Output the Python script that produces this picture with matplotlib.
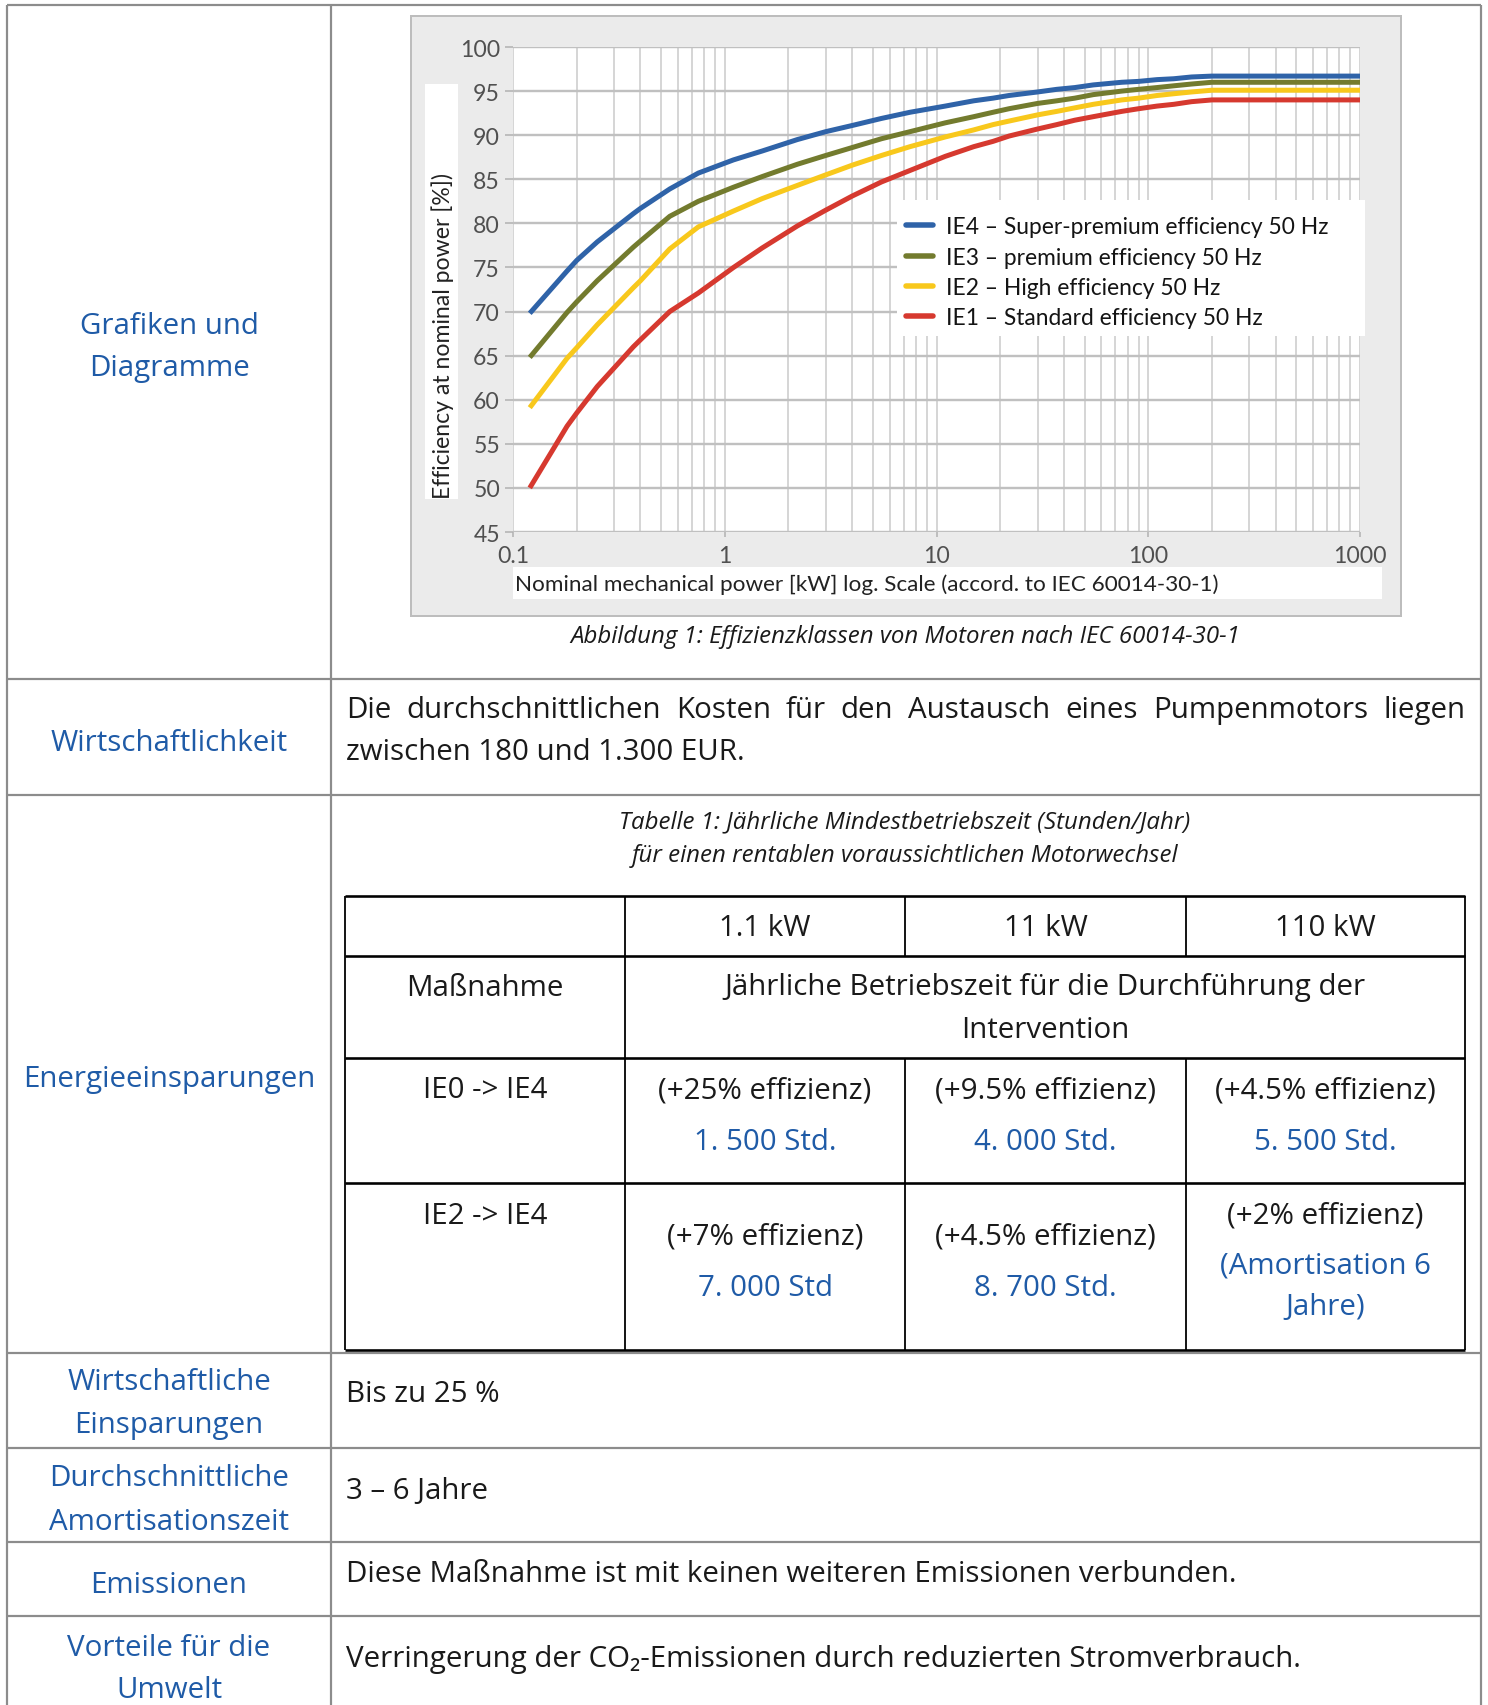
import matplotlib
matplotlib.use("Agg")
import matplotlib.pyplot as plt
from matplotlib.patches import Rectangle
from matplotlib.lines import Line2D
from matplotlib.ticker import LogLocator, NullFormatter, FixedLocator

W, H, DPI = 1488, 1706, 100

BODY = ['Open Sans', 'Noto Sans', 'DejaVu Sans']
CHART = ['Lato', 'DejaVu Sans']
plt.rcParams['font.family'] = BODY

BLUE = '#1f5ba7'
TXT = '#1a1a1a'
GRID_GRAY = '#8c8c8c'
FS = 29.5      # body text size in pixels
FS_CAP = 24    # italic caption size in pixels

# ---- IEC 60034-30-1 efficiency classes (4-pole, 50 Hz) ----
power_kw = [0.12, 0.18, 0.20, 0.25, 0.37, 0.40, 0.55, 0.75,
            1.1, 1.5, 2.2, 3, 4, 5.5, 7.5,
            11, 15, 18.5, 22, 30, 37, 45, 55, 75, 90,
            110, 132, 160, 200, 1000]
ie1 = [50.0, 57.0, 58.5, 61.5, 66.0, 66.8, 70.0, 72.1,
       75.0, 77.2, 79.7, 81.5, 83.1, 84.7, 86.0,
       87.6, 88.7, 89.3, 89.9, 90.7, 91.2, 91.7, 92.1, 92.7, 93.0,
       93.3, 93.5, 93.8, 94.0, 94.0]
ie2 = [59.1, 64.7, 65.9, 68.5, 72.7, 73.5, 77.1, 79.6,
       81.4, 82.8, 84.3, 85.5, 86.6, 87.7, 88.7,
       89.8, 90.6, 91.2, 91.6, 92.3, 92.7, 93.1, 93.5, 94.0, 94.2,
       94.5, 94.7, 94.9, 95.1, 95.1]
ie3 = [64.8, 69.9, 71.1, 73.5, 77.3, 78.0, 80.8, 82.5,
       84.1, 85.3, 86.7, 87.7, 88.6, 89.6, 90.4,
       91.4, 92.1, 92.6, 93.0, 93.6, 93.9, 94.2, 94.6, 95.0, 95.2,
       95.4, 95.6, 95.8, 96.0, 96.0]
ie4 = [69.8, 74.6, 75.8, 77.9, 81.1, 81.7, 83.9, 85.7,
       87.2, 88.2, 89.5, 90.4, 91.1, 91.9, 92.6,
       93.3, 93.9, 94.2, 94.5, 94.9, 95.2, 95.4, 95.7, 96.0, 96.1,
       96.3, 96.4, 96.6, 96.7, 96.7]

series_labels = ['IE4 – Super-premium efficiency 50 Hz',
                 'IE3 – premium efficiency 50 Hz',
                 'IE2 – High efficiency 50 Hz',
                 'IE1 – Standard efficiency 50 Hz']
series_colors = ['#2f63a8', '#737b2e', '#f8c81c', '#d6392f']

x_ticks = [0.1, 1, 10, 100, 1000]
x_tick_labels = ['0.1', '1', '10', '100', '1000']
y_ticks = list(range(45, 101, 5))

# ---- table content ----
row_labels = [['Grafiken und', 'Diagramme'], ['Wirtschaftlichkeit'], ['Energieeinsparungen'],
              ['Wirtschaftliche', 'Einsparungen'], ['Durchschnittliche', 'Amortisationszeit'],
              ['Emissionen'], ['Vorteile für die', 'Umwelt']]
cost_text = ['Die durchschnittlichen Kosten für den Austausch eines Pumpenmotors liegen',
             'zwischen 180 und 1.300 EUR.']
power_cols = ['1.1 kW', '11 kW', '110 kW']
measures = ['IE0 -> IE4', 'IE2 -> IE4']
gains = [['(+25% effizienz)', '(+9.5% effizienz)', '(+4.5% effizienz)'],
         ['(+7% effizienz)', '(+4.5% effizienz)', '(+2% effizienz)']]
hours = [['1. 500 Std.', '4. 000 Std.', '5. 500 Std.'],
         ['7. 000 Std', '8. 700 Std.', '(Amortisation 6\nJahre)']]
savings_text = 'Bis zu 25 %'
payback_text = '3 – 6 Jahre'
emission_text = 'Diese Maßnahme ist mit keinen weiteren Emissionen verbunden.'
benefit_text = 'Verringerung der CO₂-Emissionen durch reduzierten Stromverbrauch.'

fig = plt.figure(figsize=(W / DPI, H / DPI), dpi=DPI)
fig.patch.set_facecolor('white')

# page layer in pixel coordinates
bg = fig.add_axes([0, 0, 1, 1], zorder=0)
bg.set_xlim(0, W)
bg.set_ylim(H, 0)
bg.axis('off')


def pt(px):
    return px * 72.0 / DPI


def put(x, y, s, size, color=TXT, ha='center', style='normal', family=None, **kw):
    return bg.text(x, y, s, fontsize=pt(size), color=color, ha=ha, va='center',
                   fontstyle=style, family=family or BODY, **kw)


def hline(y, x0, x1, color, lw):
    bg.plot([x0, x1], [y, y], color=color, lw=pt(lw), solid_capstyle='butt')


def vline(x, y0, y1, color, lw):
    bg.plot([x, x], [y0, y1], color=color, lw=pt(lw), solid_capstyle='butt')


# ---- outer table grid ----
OL, OM, OR = 7, 331, 1481
row_edges = [6, 680, 796, 1354, 1449, 1543, 1617]
for y in row_edges:
    hline(y, OL, OR, GRID_GRAY, 2.2)
for x in (OL, OM, OR):
    vline(x, 6, H, GRID_GRAY, 2.2)

# ---- left column labels ----
label_pos = [(326, 368), (743,), (1079,), (1383, 1426), (1479, 1522), (1586,), (1649, 1691)]
for lines, ys in zip(row_labels, label_pos):
    for s, y in zip(lines, ys):
        put(169, y, s, FS, color=BLUE)

# ---- chart frame ----
bg.add_patch(Rectangle((411, 17), 990, 600, facecolor='#ebebeb', edgecolor='#bdbdbd', lw=pt(2)))
bg.add_patch(Rectangle((425, 85), 33, 415, facecolor='white', edgecolor='none'))
bg.add_patch(Rectangle((513, 568), 869, 32, facecolor='white', edgecolor='none'))
put(443, 336, 'Efficiency at nominal power [%])', 23, color='#222222', family=CHART,
    rotation=90)
put(515, 585, 'Nominal mechanical power [kW] log. Scale (accord. to IEC 60014-30-1)', 22.5,
    color='#222222', ha='left', family=CHART)
put(905, 637, 'Abbildung 1: Effizienzklassen von Motoren nach IEC 60014-30-1', FS_CAP,
    style='italic')

# ---- efficiency chart ----
AX_L, AX_R, AX_T, AX_B = 513, 1360, 48, 533
ax = fig.add_axes([AX_L / W, 1 - AX_B / H, (AX_R - AX_L) / W, (AX_B - AX_T) / H], zorder=1)
ax.set_facecolor('white')
ax.set_xscale('log')
ax.set_xlim(0.1, 1000)
ax.set_ylim(45, 100)
ax.xaxis.set_major_locator(FixedLocator(x_ticks))
ax.set_xticklabels(x_tick_labels)
ax.xaxis.set_minor_locator(LogLocator(base=10, subs=range(2, 10)))
ax.xaxis.set_minor_formatter(NullFormatter())
ax.set_yticks(y_ticks)
ax.set_axisbelow(True)
ax.grid(which='both', axis='x', color='#cdcdcd', lw=pt(1.6))
ax.grid(which='major', axis='y', color='#c0c0c0', lw=pt(2.4))
for sp in ax.spines.values():
    sp.set_visible(False)
ax.tick_params(axis='y', length=pt(8), width=pt(1.5), color='#b0b0b0', pad=pt(5),
               labelsize=pt(23), labelcolor='#505050')
ax.tick_params(axis='x', which='major', length=pt(5), width=pt(1.5), color='#b0b0b0',
               pad=pt(8), labelsize=pt(23), labelcolor='#505050')
ax.tick_params(axis='x', which='minor', length=0)
for lab in ax.get_xticklabels() + ax.get_yticklabels():
    lab.set_family(CHART)

for vals, col in zip([ie4, ie3, ie2, ie1], series_colors):
    ax.plot(power_kw, vals, color=col, lw=pt(5.0), solid_joinstyle='round',
            solid_capstyle='butt', zorder=3)

# legend panel
ax.add_patch(Rectangle((897 / W, 1 - 337 / H), (1365 - 897) / W, (337 - 201) / H,
                       transform=fig.transFigure, facecolor='white', edgecolor='none',
                       zorder=1.5, clip_on=False))
handles = [Line2D([], [], color=c, lw=pt(5.5), solid_capstyle='round') for c in series_colors]
leg = ax.legend(handles, series_labels, loc='upper left',
                bbox_to_anchor=(899 / W, 1 - 210.5 / H), bbox_transform=fig.transFigure,
                frameon=False, prop={'family': CHART, 'size': pt(22.8)},
                handlelength=1.2, handletextpad=0.55, labelspacing=0.41,
                borderpad=0.3, borderaxespad=0)
for t in leg.get_texts():
    t.set_color('#141414')

# ---- cost row, justified first line ----
renderer = fig.canvas.get_renderer()
TL, TR = 346, 1465
words = cost_text[0].split()
objs = [put(0, 710, w, FS, ha='left') for w in words]
widths = [o.get_window_extent(renderer).width for o in objs]
gap = (TR - TL - sum(widths)) / (len(words) - 1)
x = TL
for o, w in zip(objs, widths):
    o.set_x(x)
    x += w + gap
put(TL, 752, cost_text[1], FS, ha='left')

# ---- Tabelle 1 ----
put(905, 822, 'Tabelle 1: Jährliche Mindestbetriebszeit (Stunden/Jahr)', FS_CAP, style='italic')
put(905, 856, 'für einen rentablen voraussichtlichen Motorwechsel', FS_CAP, style='italic')

IL, IR = 345, 1465
cols = [IL, 625, 905, 1186, IR]
rows = [897, 957, 1059, 1184, 1351]
for y in rows:
    hline(y, IL, IR, 'black', 2.6)
for x in (IL, 625, IR):
    vline(x, rows[0], rows[-1], 'black', 1.8)
for x in (905, 1186):
    vline(x, rows[0], rows[1], 'black', 1.8)
    vline(x, rows[2], rows[-1], 'black', 1.8)

centers = [(cols[i] + cols[i + 1]) / 2 for i in range(4)]
for cx, s in zip(centers[1:], power_cols):
    put(cx, 928, s, FS)
put(centers[0], 988, 'Maßnahme', FS)
put(1045, 988, 'Jährliche Betriebszeit für die Durchführung der', FS)
put(1045, 1031, 'Intervention', FS)

put(centers[0], 1091, measures[0], FS)
for cx, g, h in zip(centers[1:], gains[0], hours[0]):
    put(cx, 1091, g, FS)
    put(cx, 1142, h, FS, color=BLUE)

put(centers[0], 1216, measures[1], FS)
for cx, g, h in zip(centers[1:], gains[1], hours[1]):
    if '\n' in h:
        put(cx, 1216, g, FS)
        l1, l2 = h.split('\n')
        put(cx, 1266, l1, FS, color=BLUE)
        put(cx, 1307, l2, FS, color=BLUE)
    else:
        put(cx, 1237, g, FS)
        put(cx, 1288, h, FS, color=BLUE)

# ---- remaining rows ----
put(TL, 1395, savings_text, FS, ha='left')
put(TL, 1491, payback_text, FS, ha='left')
put(TL, 1575, emission_text, FS, ha='left')
put(TL, 1660, benefit_text, FS, ha='left')

fig.savefig('out.png', dpi=DPI, facecolor='white')
